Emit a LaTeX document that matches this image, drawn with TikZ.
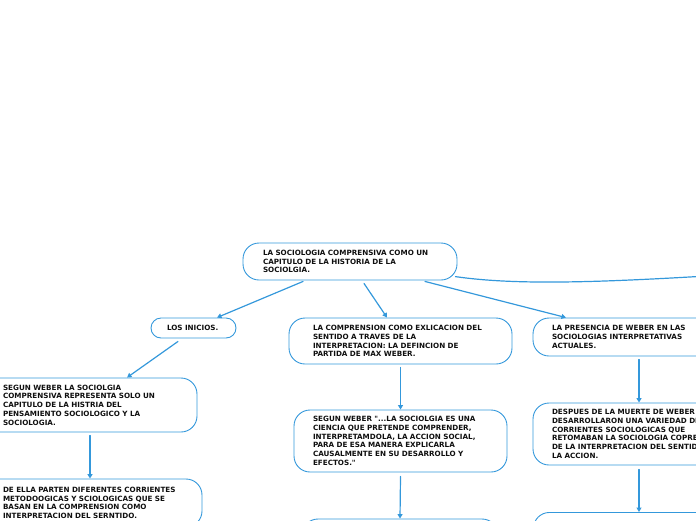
\documentclass[tikz,border=0pt]{standalone}
\usepackage{fontspec}
\newfontfamily\mapfont{DejaVu Sans}
\usetikzlibrary{arrows.meta}
\definecolor{mapblue}{RGB}{52,152,219}
\definecolor{maptext}{RGB}{15,15,15}

\begin{document}
\begin{tikzpicture}[x=1pt,y=-1pt]
\tikzset{
  mapnode/.style={draw=mapblue,line width=0.9pt,rounded corners=16pt,align=left,text=maptext,
    font=\mapfont\bfseries\fontsize{7.2}{8.7}\selectfont,inner ysep=3pt},
  maplink/.style={draw=mapblue,line width=1.2pt,line cap=round},
  directed/.style={maplink,-{Triangle[length=4.5pt,width=5pt]}}
}
\useasboundingbox (0,0) rectangle (696,520);
\clip (0,0) rectangle (696,520);
\node[mapnode,minimum height=37pt,inner xsep=20pt,text width=174pt] (n_top) at (350,261.5) {LA SOCIOLOGIA COMPRENSIVA COMO UN\\CAPITULO DE LA HISTORIA DE LA\\SOCIOLGIA.};
\node[mapnode,rounded corners=10pt,minimum height=20pt,inner xsep=16pt,text width=53pt] (n_inicios) at (193.5,328) {LOS INICIOS.};
\node[mapnode,minimum height=46pt,inner xsep=24pt,text width=175pt] (n_compr) at (400.5,341) {LA COMPRENSION COMO EXLICACION DEL\\SENTIDO A TRAVES DE LA\\INTERPRETACION: LA DEFINCION DE\\PARTIDA DE MAX WEBER.};
\node[mapnode,minimum height=38pt,inner xsep=19pt,text width=174pt] (n_presencia) at (639,337) {LA PRESENCIA DE WEBER EN LAS\\SOCIOLOGIAS INTERPRETATIVAS\\ACTUALES.};
\node[mapnode,minimum height=54pt,inner xsep=20pt,text width=174pt] (n_seguna) at (90,405) {SEGUN WEBER LA SOCIOLGIA\\COMPRENSIVA REPRESENTA SOLO UN\\CAPITULO DE LA HISTRIA DEL\\PENSAMIENTO SOCIOLOGICO Y LA\\SOCIOLOGIA.};
\node[mapnode,minimum height=62pt,inner xsep=19pt,text width=175pt] (n_segunb) at (400.5,441) {SEGUN WEBER "...LA SOCIOLGIA ES UNA\\CIENCIA QUE PRETENDE COMPRENDER,\\INTERPRETAMDOLA, LA ACCION SOCIAL,\\PARA DE ESA MANERA EXPLICARLA\\CAUSALMENTE EN SU DESARROLLO Y\\EFECTOS."};
\node[mapnode,minimum height=62pt,inner xsep=19pt,text width=200pt] (n_despues) at (652,434) {DESPUES DE LA MUERTE DE WEBER SE\\DESARROLLARON UNA VARIEDAD DE\\CORRIENTES SOCIOLOGICAS QUE\\RETOMABAN LA SOCIOLOGIA COPRENSIVA\\DE LA INTERPRETACION DEL SENTIDO DE\\LA ACCION.};
\node[mapnode,minimum height=48pt,inner xsep=20pt,text width=179pt] (n_deella) at (92.5,503) {DE ELLA PARTEN DIFERENTES CORRIENTES\\METODOOGICAS Y SCIOLOGICAS QUE SE\\BASAN EN LA COMPRENSION COMO\\INTERPRETACION DEL SERNTIDO.};
\node[mapnode,minimum height=40pt,minimum width=196pt] (n_bottom) at (400,539) {};
\node[mapnode,anchor=north west,minimum height=40pt,inner xsep=19pt,inner ysep=3pt,text width=200pt] (n_sociol) at (533,512) {SOCIOLOGIAS INTERPRETATIVAS\\\strut};
\coordinate (n_right) at (740,274);
\draw[directed] ([xshift=-47pt,yshift=-1pt]n_top.south) -- ([xshift=23.5pt]n_inicios.north);
\draw[directed] ([xshift=14pt,yshift=-3pt]n_top.south) -- ([xshift=-13.5pt]n_compr.north);
\draw[directed] ([xshift=75pt,yshift=-1pt]n_top.south) -- ([xshift=-73pt]n_presencia.north);
\draw[maplink] ([xshift=-2pt]n_top.-8) .. controls (520,286) and (610,282) .. (n_right);
\draw[directed] ([xshift=-15.5pt,yshift=-3pt]n_inicios.south) -- ([xshift=37pt]n_seguna.north);
\draw[directed] ([yshift=-3pt]n_seguna.south) -- (n_seguna.south |- n_deella.north);
\draw[directed] ([yshift=-3pt]n_compr.south) -- (n_segunb.north);
\draw[directed] ([yshift=-4pt]n_segunb.south) -- (n_bottom.north);
\draw[directed] ([yshift=-3pt]n_presencia.south) -- (n_presencia.south |- n_despues.north);
\draw[directed] ([xshift=-13pt,yshift=-4pt]n_despues.south) -- ([xshift=-13pt]n_despues.south |- n_sociol.north);
\end{tikzpicture}
\end{document}
